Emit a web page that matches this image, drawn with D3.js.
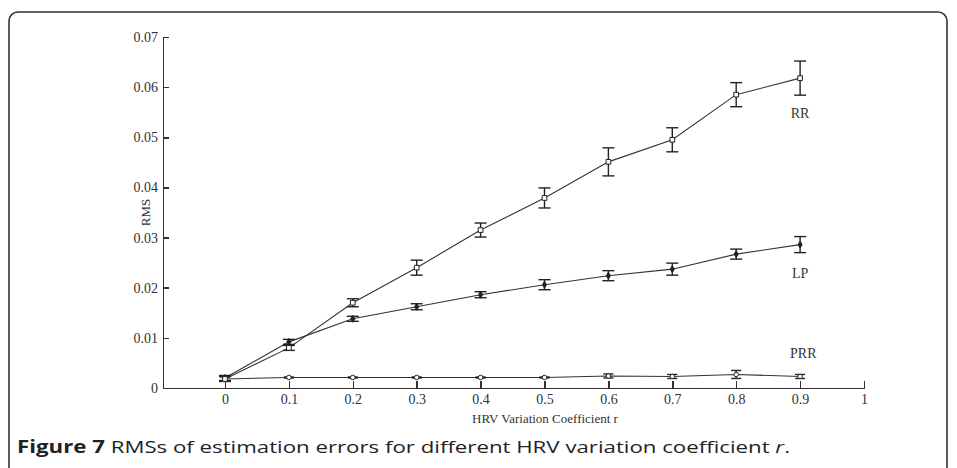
<!DOCTYPE html>
<meta charset="utf-8">
<style>
body {
  margin: 0;
  background-color: #fff;
}
.axis path,
.axis line {
  fill: none;
  stroke: #333;
  stroke-width: 1.5px;
  shape-rendering: crispEdges;
}
.axis text {
  font-family: "Liberation Serif", "Times New Roman", serif;
  font-size: 14px;
  fill: #333;
}
.series {
  fill: none;
  stroke: #333;
  stroke-width: 1.1px;
}
.lbl {
  font-family: "Liberation Serif", serif;
  font-size: 14px;
  fill: #333;
}
</style>
<svg width="957" height="468"></svg>
<script src="https://d3js.org/d3.v7.min.js"></script>
<script>
// coefficient r
var rValues = [0, 0.1, 0.2, 0.3, 0.4, 0.5, 0.6, 0.7, 0.8, 0.9];

// RMS means and error half-widths
var rrMean = [0.0018, 0.0080, 0.0170, 0.0240, 0.0315, 0.0379, 0.0451, 0.0495, 0.0585, 0.0618];
var rrErr  = [0.0005, 0.0005, 0.0008, 0.0015, 0.0014, 0.0020, 0.0028, 0.0024, 0.0024, 0.0034];
var lpMean = [0.0020, 0.0092, 0.0138, 0.0162, 0.0186, 0.0206, 0.0224, 0.0237, 0.0267, 0.0286];
var lpErr  = [0.0005, 0.0005, 0.0005, 0.0006, 0.0006, 0.0010, 0.0010, 0.0012, 0.0010, 0.0016];
var prrMean = [0.0018, 0.0021, 0.0021, 0.0021, 0.0021, 0.0021, 0.0024, 0.0023, 0.0027, 0.0023];
var prrErr  = [0.0004, 0.0001, 0.0001, 0.0001, 0.0001, 0.0001, 0.0004, 0.0004, 0.0008, 0.0004];

var xTicks = [0, 0.1, 0.2, 0.3, 0.4, 0.5, 0.6, 0.7, 0.8, 0.9, 1];
var yTicks = [0, 0.01, 0.02, 0.03, 0.04, 0.05, 0.06, 0.07];

var svg = d3.select("svg");

// rounded frame around the figure
svg.append("rect")
  .attr("x", 9).attr("y", 12)
  .attr("width", 938).attr("height", 470)
  .attr("rx", 9)
  .attr("fill", "none")
  .attr("stroke", "#333")
  .attr("stroke-width", 1.6);

var x = d3.scaleLinear().domain([-0.097, 1]).range([163, 864]);
var y = d3.scaleLinear().domain([0, 0.07]).range([388, 37]);

svg.append("g")
  .attr("class", "x axis")
  .attr("transform", "translate(0," + y(0) + ")")
  .call(d3.axisBottom(x).tickValues(xTicks).tickFormat(d3.format("~g"))
    .tickSizeInner(-7).tickSizeOuter(0).tickPadding(6));

svg.append("g")
  .attr("class", "y axis")
  .attr("transform", "translate(" + x(-0.097) + ",0)")
  .call(d3.axisLeft(y).tickValues(yTicks).tickFormat(d3.format("~g"))
    .tickSizeInner(-6).tickSizeOuter(0).tickPadding(5));

svg.append("text")
  .attr("class", "lbl")
  .attr("transform", "translate(150," + y(0.035) + ") rotate(-90)")
  .attr("text-anchor", "middle")
  .style("font-size", "13px")
  .text("RMS");

svg.append("text")
  .attr("class", "lbl")
  .attr("x", 545).attr("y", 423)
  .attr("text-anchor", "middle")
  .style("font-size", "13px")
  .text("HRV Variation Coefficient r");

var line = d3.line()
  .x(function(d) { return x(d.r); })
  .y(function(d) { return y(d.m); });

function pack(means, errs) {
  return rValues.map(function(r, i) { return {r: r, m: means[i], e: errs[i]}; });
}

function drawSeries(data, cap, marker) {
  var g = svg.append("g");
  g.append("path").datum(data).attr("class", "series").attr("d", line);

  var eb = g.selectAll(".eb").data(data).enter().append("g");
  eb.append("line")
    .attr("x1", function(d) { return x(d.r); })
    .attr("x2", function(d) { return x(d.r); })
    .attr("y1", function(d) { return y(d.m - d.e); })
    .attr("y2", function(d) { return y(d.m + d.e); })
    .attr("stroke", "#222").attr("stroke-width", 1.4);
  [-1, 1].forEach(function(s) {
    eb.append("line")
      .attr("x1", function(d) { return x(d.r) - cap; })
      .attr("x2", function(d) { return x(d.r) + cap; })
      .attr("y1", function(d) { return y(d.m + s * d.e); })
      .attr("y2", function(d) { return y(d.m + s * d.e); })
      .attr("stroke", "#222").attr("stroke-width", 1.4);
  });

  g.selectAll(".mk").data(data).enter().append("path")
    .attr("transform", function(d) { return "translate(" + x(d.r) + "," + y(d.m) + ")"; })
    .attr("d", marker.d)
    .attr("fill", marker.fill)
    .attr("stroke", "#222")
    .attr("stroke-width", 1);
}

drawSeries(pack(prrMean, prrErr), 5, {d: d3.symbol(d3.symbolCircle, 16)(), fill: "#fff"});
drawSeries(pack(lpMean, lpErr), 6, {d: d3.symbol(d3.symbolDiamond, 14)(), fill: "#222"});
drawSeries(pack(rrMean, rrErr), 6, {d: d3.symbol(d3.symbolSquare, 22)(), fill: "#fff"});

// series labels
svg.append("text").attr("class", "lbl").attr("x", x(0.9)).attr("y", 118)
  .attr("text-anchor", "middle").text("RR");
svg.append("text").attr("class", "lbl").attr("x", x(0.9)).attr("y", 278)
  .attr("text-anchor", "middle").text("LP");
svg.append("text").attr("class", "lbl").attr("x", x(0.905)).attr("y", 358)
  .attr("text-anchor", "middle").text("PRR");

// caption
var cap = svg.append("text")
  .attr("x", 17).attr("y", 453)
  .attr("textLength", 773)
  .attr("lengthAdjust", "spacingAndGlyphs")
  .style("font-family", "'Open Sans', 'Noto Sans', sans-serif")
  .style("font-size", "17px")
  .style("fill", "#222");
cap.append("tspan").style("font-weight", "bold").text("Figure 7");
cap.append("tspan").text(" RMSs of estimation errors for different HRV variation coefficient ");
cap.append("tspan").style("font-style", "italic").text("r");
cap.append("tspan").text(".");
</script>
